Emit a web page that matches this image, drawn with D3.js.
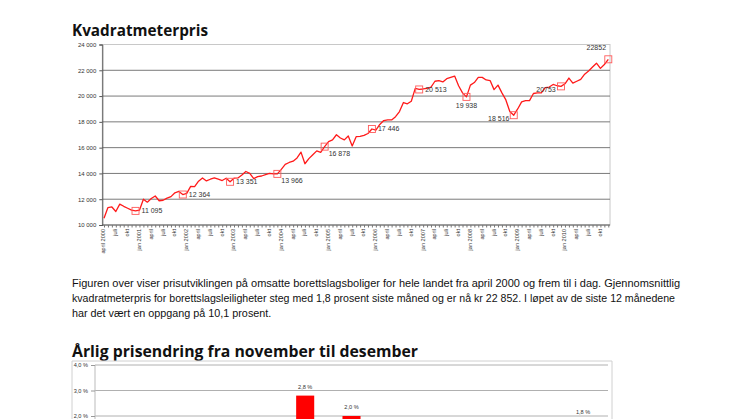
<!DOCTYPE html>
<html>
<head>
<meta charset="utf-8">
<script src="https://cdn.jsdelivr.net/npm/d3@7/dist/d3.min.js"></script>
<style>
html,body{margin:0;padding:0;background:#fff;overflow:hidden;}
svg{display:block;}
</style>
</head>
<body>
<svg id="c" width="746" height="419"></svg>
<script>
// ---------- DATA ----------
// Monthly average price per m2, April 2000 .. December 2010
const startMonth = "2000-04";
const prices = [
 10520,11350,11400,11050,11620,11450,11300,11150,11095,             // 2000 apr-dec
 11150,12000,11770,12050,12250,11880,11920,12080,12200,12500,12600,12364, // 2001
 12450,13000,12980,13400,13650,13420,13550,13650,13550,13450,13630,13351, // 2002
 13630,13650,13880,14150,14000,13600,13750,13800,13900,14000,13960,13966, // 2003
 14320,14700,14850,14950,15200,15650,14750,15150,15450,15750,15640,16078, // 2004
 16470,16600,17000,16750,16600,16900,16130,16850,16870,16950,17100,17446, // 2005
 17350,17800,18100,18150,18150,18400,18800,19500,19400,19600,20600,20513, // 2006
 20550,20600,20700,21150,21200,21100,21350,21450,21550,20800,20250,19938, // 2007
 20850,21050,21450,21450,21250,21200,20500,20850,20250,19700,18800,18516, // 2008
 19000,19550,19650,19650,20200,20250,20250,20650,20700,20900,20800,20753, // 2009
 20950,21400,21000,21150,21300,21700,21950,22250,22550,22150,22450,22852  // 2010
];
// December markers (index into prices) and their printed labels
const markerIdx = [8,20,32,44,56,68,80,92,104,116,128];
const markerLabels = ["11 095","12 364","13 351","13 966","16 878","17 446","20 513","19 938","18 516","20753","22852"];
const markerPlace = ["r","r","r","br","br","r","r","b","bl","bl","tl"];

const yTicks = [10000,12000,14000,16000,18000,20000,22000,24000];
const yTickLabels = ["10 000","12 000","14 000","16 000","18 000","20 000","22 000","24 000"];
const xTickLabels = [
 "april 2000","juli","okt",
 "jan 2001","april","juli","okt",
 "jan 2002","april","juli","okt",
 "jan 2003","april","juli","okt",
 "jan 2004","april","juli","okt",
 "jan 2005","april","juli","okt",
 "jan 2006","april","juli","okt",
 "jan 2007","april","juli","okt",
 "jan 2008","april","juli","okt",
 "jan 2009","april","juli","okt",
 "jan 2010","april","juli","okt"
];

const paragraph = [
 "Figuren over viser prisutviklingen på omsatte borettslagsboliger for hele landet fra april 2000 og frem til i dag. Gjennomsnittlig",
 "kvadratmeterpris for borettslagsleiligheter steg med 1,8 prosent siste måned og er nå kr 22 852. I løpet av de siste 12 månedene",
 "har det vært en oppgang på 10,1 prosent."
];

// Yearly change Nov -> Dec
const years = ["2000","2001","2002","2003","2004","2005","2006","2007","2008","2009","2010"];
const yearChange = [-0.5,-1.9,-2.0,0.0,2.8,2.0,-0.4,-1.5,-1.5,-0.2,1.8];
const pctTicks = [2,3,4];
const pctTickLabels = ["2,0 %","3,0 %","4,0 %"];

// ---------- DRAW ----------
const W = 746, H = 419;
const svg = d3.select("#c");
const F = "'Liberation Sans', Arial, sans-serif";
const TF = "'Open Sans', 'DejaVu Sans', sans-serif";

// Title 1
svg.append("text").attr("x",72).attr("y",36)
  .attr("font-family",TF).attr("font-weight","bold").attr("font-size",16.5)
  .attr("fill","#111").attr("textLength",136).attr("lengthAdjust","spacingAndGlyphs")
  .text("Kvadratmeterpris");

// Line chart
const L = {x0:104, x1:608.3, yTop:44.5, yBot:225, left:102.3, right:610};
const x = d3.scaleLinear().domain([0, prices.length-1]).range([L.x0, L.x1]);
const y = d3.scaleLinear().domain([10000,24000]).range([L.yBot, L.yTop]);

const g = svg.append("g");
g.append("rect").attr("x",L.left).attr("y",L.yTop).attr("width",L.right-L.left).attr("height",L.yBot-L.yTop)
  .attr("fill","none").attr("stroke","#c8c8c8").attr("stroke-width",1);
g.selectAll("line.grid").data(yTicks.filter(t=>t>10000 && t<24000)).enter().append("line")
  .attr("x1",L.left).attr("x2",L.right).attr("y1",d=>y(d)).attr("y2",d=>y(d))
  .attr("stroke","#7a7a7a").attr("stroke-width",1);

const yAxis = d3.axisLeft(y).tickValues(yTicks).tickSize(3).tickPadding(3)
  .tickFormat((d,i)=>yTickLabels[i]);
const ya = g.append("g").attr("transform",`translate(${L.left},0)`).call(yAxis);
ya.select(".domain").attr("stroke","#555");
ya.selectAll(".tick line").attr("stroke","#555");
ya.selectAll("text").attr("font-family",F).attr("font-size",6).attr("fill","#333");

const monthIdx = d3.range(prices.length);
const xAxis = d3.axisBottom(x).tickValues(monthIdx).tickSize(2.5).tickFormat(()=> "");
const xa = g.append("g").attr("transform",`translate(0,${L.yBot})`).call(xAxis);
xa.select(".domain").attr("stroke","#555").attr("d",`M${L.left},0H${L.right}`);
xa.selectAll(".tick line").attr("stroke","#777");
g.selectAll("text.xl").data(xTickLabels).enter().append("text")
  .attr("transform",(d,i)=>`translate(${x(i*3)-0.5},${L.yBot+4}) rotate(-90)`)
  .attr("text-anchor","end").attr("dy","0.35em")
  .attr("font-family",F).attr("font-size",5.6).attr("fill","#333")
  .text(d=>d);

const line = d3.line().x((d,i)=>x(i)).y(d=>y(d));
g.append("path").datum(prices).attr("d",line)
  .attr("fill","none").attr("stroke","#ff1a1a").attr("stroke-width",1.3).attr("stroke-linejoin","round");

const mk = g.selectAll("g.mk").data(markerIdx).enter().append("g");
mk.append("rect").attr("x",d=>x(d)-3.5).attr("y",d=>y(prices[d])-3.5).attr("width",7).attr("height",7)
  .attr("fill","none").attr("stroke","#ff5a5a").attr("stroke-width",0.9);
const off = {r:[6,2.5,"start"], br:[4,9,"start"], b:[0,11,"middle"], bl:[-15,6,"middle"], tl:[-12,-9,"middle"]};
mk.append("text")
  .attr("x",(d,i)=>x(d)+off[markerPlace[i]][0])
  .attr("y",(d,i)=>y(prices[d])+off[markerPlace[i]][1])
  .attr("text-anchor",(d,i)=>off[markerPlace[i]][2])
  .attr("font-family",F).attr("font-size",7).attr("fill","#333")
  .text((d,i)=>markerLabels[i]);

// paragraph
svg.selectAll("text.p").data(paragraph).enter().append("text")
  .attr("x",72).attr("y",(d,i)=>287+i*15)
  .attr("font-family",F).attr("font-size",10.8).attr("fill","#111")
  .attr("textLength",(d,i)=> i===0?608:(i===1?603:null))
  .attr("lengthAdjust","spacingAndGlyphs")
  .text(d=>d);

// Title 2
svg.append("text").attr("x",72).attr("y",357)
  .attr("font-family",TF).attr("font-weight","bold").attr("font-size",16.5)
  .attr("fill","#111").attr("textLength",346).attr("lengthAdjust","spacingAndGlyphs")
  .text("Årlig prisendring fra november til desember");

// Bar chart (only its top part is visible on the page)
const B = {left:95, right:608, frameL:72, frameR:612, frameT:361};
const yb = d3.scaleLinear().domain([2,4]).range([416,365]);
const xb = d3.scaleBand().domain(years).range([97,606]).paddingInner(0.61).paddingOuter(0.3);
const gb = svg.append("g");
gb.append("path").attr("d",`M${B.frameL},${H}V${B.frameT}H${B.frameR}V${H}`)
  .attr("fill","none").attr("stroke","#d0d0d0").attr("stroke-width",1);
gb.selectAll("line.bg").data(pctTicks).enter().append("line")
  .attr("x1",B.left).attr("x2",B.right).attr("y1",d=>yb(d)).attr("y2",d=>yb(d))
  .attr("stroke","#b0b0b0").attr("stroke-width",1);
const yba = gb.append("g").attr("transform",`translate(${B.left},0)`)
  .call(d3.axisLeft(yb).tickValues(pctTicks).tickSize(4).tickPadding(3).tickFormat((d,i)=>pctTickLabels[i]));
yba.select(".domain").attr("stroke","#bbb").attr("d",`M0,365V${H}`);
yba.selectAll(".tick line").attr("stroke","#999");
yba.selectAll("text").attr("font-family",F).attr("font-size",5.6).attr("fill","#333");
const clipB = svg.append("clipPath").attr("id","clipB").append("rect")
  .attr("x",0).attr("y",0).attr("width",W).attr("height",H);
gb.append("g").attr("clip-path","url(#clipB)")
  .selectAll("rect.bar").data(years).enter().append("rect")
  .attr("x",d=>xb(d)).attr("width",xb.bandwidth())
  .attr("y",(d,i)=>Math.min(yb(yearChange[i]), yb(0)))
  .attr("height",(d,i)=>Math.abs(yb(yearChange[i])-yb(0)))
  .attr("fill","#ff0000");
// value labels, drawn only where they fall on the page
const barLab = years.map((d,i)=>({d, v:yearChange[i], ly: yb(Math.max(yearChange[i],0))-7}))
  .filter(o=>o.ly < H-3);
gb.selectAll("text.bl").data(barLab).enter().append("text")
  .attr("x",o=>xb(o.d)+xb.bandwidth()/2)
  .attr("y",o=>o.ly)
  .attr("text-anchor","middle").attr("font-family",F).attr("font-size",5.6).attr("fill","#333")
  .text(o=>o.v.toFixed(1).replace(".",",")+" %");
</script>
</body>
</html>
